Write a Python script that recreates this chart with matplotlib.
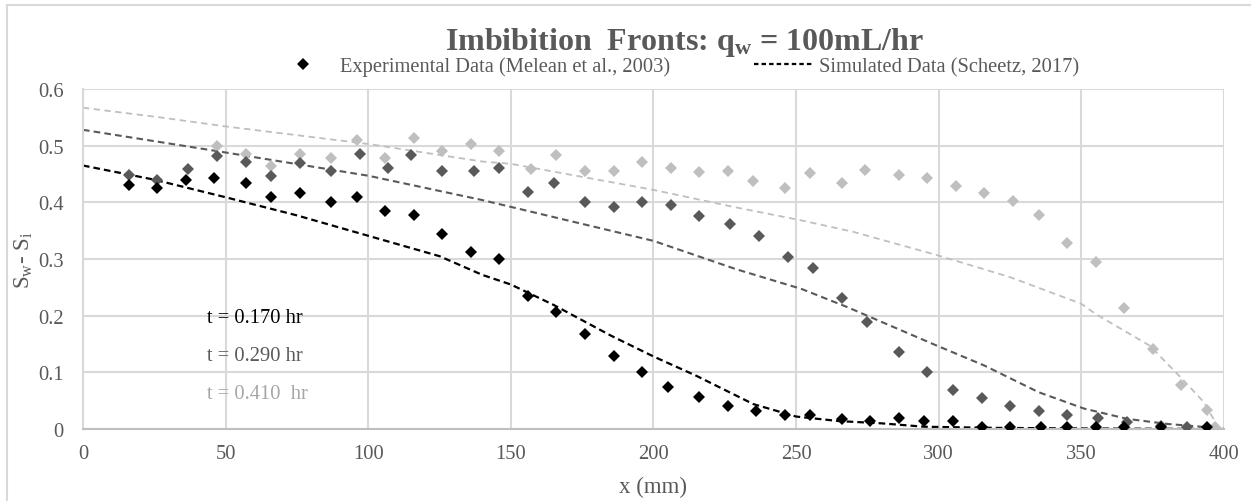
import matplotlib
matplotlib.use("Agg")
import matplotlib.pyplot as plt
from matplotlib.lines import Line2D

# --- Data ---
x_t170 = [16, 26, 36, 46, 57, 66, 76, 87, 96, 106, 116, 126, 136, 146, 156, 166, 176, 186,
          196, 205, 216, 226, 236, 246, 255, 266, 276, 286, 295, 305, 315, 325, 336, 345,
          355, 365, 378, 394]
y_t170 = [0.431, 0.425, 0.439, 0.443, 0.434, 0.410, 0.416, 0.400, 0.410, 0.384, 0.378, 0.345,
          0.312, 0.300, 0.235, 0.206, 0.168, 0.128, 0.101, 0.074, 0.056, 0.040, 0.032, 0.024,
          0.025, 0.018, 0.015, 0.019, 0.015, 0.015, 0.003, 0.003, 0.003, 0.003, 0.003, 0.003,
          0.003, 0.003]

x_t290 = [16, 26, 37, 47, 57, 66, 76, 87, 97, 107, 115, 126, 137, 146, 156, 165, 176, 186,
          196, 206, 216, 227, 237, 247, 256, 266, 275, 286, 296, 305, 315, 325, 335, 345,
          356, 366, 378, 387]
y_t290 = [0.449, 0.439, 0.459, 0.481, 0.472, 0.447, 0.470, 0.455, 0.486, 0.461, 0.484, 0.455,
          0.455, 0.461, 0.419, 0.435, 0.400, 0.392, 0.400, 0.396, 0.376, 0.361, 0.341, 0.304,
          0.285, 0.232, 0.189, 0.136, 0.101, 0.068, 0.054, 0.040, 0.032, 0.025, 0.019, 0.013,
          0.006, 0.003]

x_t410 = [47, 57, 66, 76, 87, 96, 106, 116, 126, 136, 146, 157, 166, 176, 186, 196, 206, 216,
          226, 235, 246, 255, 266, 274, 286, 296, 306, 316, 326, 335, 345, 355, 365, 375, 385,
          394, 397]
y_t410 = [0.500, 0.486, 0.465, 0.486, 0.478, 0.510, 0.478, 0.513, 0.490, 0.503, 0.490, 0.459,
          0.484, 0.455, 0.455, 0.472, 0.460, 0.453, 0.455, 0.437, 0.425, 0.451, 0.435, 0.457,
          0.449, 0.443, 0.428, 0.416, 0.402, 0.378, 0.329, 0.294, 0.214, 0.142, 0.078, 0.034,
          0.003]

xs_t170 = [0, 25, 50, 75, 100, 125, 140, 150, 165, 185, 200, 215, 235, 250, 265, 280, 295,
           320, 350, 400]
ys_t170 = [0.465, 0.440, 0.409, 0.377, 0.341, 0.305, 0.272, 0.255, 0.219, 0.165, 0.128, 0.094,
           0.044, 0.022, 0.014, 0.010, 0.004, 0.002, 0.001, 0.000]

xs_t290 = [0, 50, 100, 140, 165, 200, 229, 252, 268, 298, 316, 335, 351, 366, 380, 397]
ys_t290 = [0.528, 0.488, 0.447, 0.404, 0.374, 0.332, 0.282, 0.247, 0.215, 0.150, 0.112, 0.065,
           0.036, 0.018, 0.009, 0.002]

xs_t410 = [0, 27, 50, 100, 140, 150, 200, 229, 252, 270, 300, 325, 350, 355, 374, 386, 393, 398]
ys_t410 = [0.567, 0.550, 0.534, 0.503, 0.472, 0.468, 0.422, 0.391, 0.368, 0.348, 0.306, 0.268,
           0.221, 0.203, 0.147, 0.085, 0.047, 0.003]

x_ticks = [0, 50, 100, 150, 200, 250, 300, 350, 400]
y_ticks = [0, 0.1, 0.2, 0.3, 0.4, 0.5, 0.6]
y_tick_labels = ["0", "0.1", "0.2", "0.3", "0.4", "0.5", "0.6"]

time_labels = ["t = 0.170 hr", "t = 0.290 hr", "t = 0.410  hr"]

# --- Style ---
plt.rcParams["font.family"] = ["Liberation Serif", "DejaVu Serif"]
plt.rcParams["mathtext.fontset"] = "custom"
plt.rcParams["mathtext.rm"] = "Liberation Serif"
plt.rcParams["mathtext.it"] = "Liberation Serif:italic"
plt.rcParams["mathtext.bf"] = "Liberation Serif:bold"

TXT = "#595959"
GRID = "#d9d9d9"
C_BLACK = "#000000"
C_DARK = "#595959"
C_LIGHT = "#bfbfbf"
FS = 14.8

fig = plt.figure(figsize=(12.51, 5.02), dpi=100)
ax = fig.add_axes([0.0663, 0.1434, 0.9121, 0.6773])

# simulated curves
ax.plot(xs_t410, ys_t410, color=C_LIGHT, lw=1.3, dashes=(3.5, 2.5), zorder=2)
ax.plot(xs_t290, ys_t290, color=C_DARK, lw=1.5, dashes=(3.2, 2.0), zorder=2)
ax.plot(xs_t170, ys_t170, color=C_BLACK, lw=1.6, dashes=(3.0, 1.8), zorder=2)

# experimental points
ax.plot(x_t410, y_t410, "D", color=C_LIGHT, ms=5.8, mew=0, zorder=3)
ax.plot(x_t290, y_t290, "D", color=C_DARK, ms=5.8, mew=0, zorder=3)
ax.plot(x_t170, y_t170, "D", color=C_BLACK, ms=5.8, mew=0, zorder=4)

ax.set_xlim(0, 400)
ax.set_ylim(0, 0.6)
ax.set_xticks(x_ticks)
ax.set_yticks(y_ticks)
ax.set_yticklabels(y_tick_labels)
ax.tick_params(length=0, colors=TXT, labelsize=FS)
ax.tick_params(axis="x", pad=11)
ax.tick_params(axis="y", pad=14)
ax.grid(True, color=GRID, lw=1.5, zorder=0)
ax.set_axisbelow(True)
for side in ["top", "right"]:
    ax.spines[side].set_visible(False)
ax.spines["left"].set_color(GRID)
ax.spines["left"].set_linewidth(1.5)
ax.spines["bottom"].set_color("#bfbfbf")
ax.spines["bottom"].set_linewidth(1.5)

ax.set_xlabel("x (mm)", color=TXT, fontsize=16.5, labelpad=9)
ax.set_ylabel(r"S$_\mathrm{w}$- S$_\mathrm{i}$", color=TXT, fontsize=16.5, labelpad=2)

# time labels
ax.text(43.5, 0.196, time_labels[0], color=C_BLACK, fontsize=FS, va="center")
ax.text(43.5, 0.129, time_labels[1], color=C_DARK, fontsize=FS, va="center")
ax.text(43.5, 0.063, time_labels[2], color="#a6a6a6", fontsize=FS, va="center")

fig.text(0.547, 0.915, r"Imbibition  Fronts: q$_\mathbf{w}$ = 100mL/hr", ha="center",
         va="center", fontsize=23, fontweight="bold", color=TXT)

handles = [Line2D([], [], ls="none", marker="D", ms=5.8, color=C_BLACK, mew=0),
           Line2D([], [], color=C_BLACK, lw=1.6, dashes=(2.0, 1.4))]
fig.legend(handles, ["Experimental Data (Melean et al., 2003)", "Simulated Data (Scheetz, 2017)"],
           loc="center", bbox_to_anchor=(0.541, 0.866), ncol=2, frameon=False, fontsize=FS,
           labelcolor=TXT, handlelength=2.85, handletextpad=0.33, columnspacing=4.1)

# chart border (left and top edges visible)
fig.add_artist(Line2D([0.0056, 0.0056], [0.0, 0.989], color=GRID, lw=1.5,
                      transform=fig.transFigure))
fig.add_artist(Line2D([0.0056, 1.0], [0.989, 0.989], color=GRID, lw=1.5,
                      transform=fig.transFigure))

fig.savefig("out.png", dpi=100)
